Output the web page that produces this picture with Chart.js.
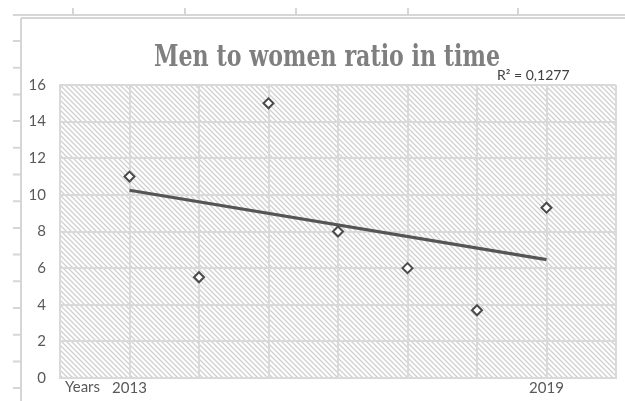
<!DOCTYPE html>
<html>
<head>
<meta charset="utf-8">
<script src="https://cdn.jsdelivr.net/npm/chart.js@4/dist/chart.umd.min.js"></script>
<style>
  html, body { margin: 0; padding: 0; background: #ffffff; }
  #wrap { width: 625px; height: 401px; }
</style>
</head>
<body>
<div id="wrap"><canvas id="chart" width="625" height="401"></canvas></div>
<script>
// Yearly men-to-women ratio
const years = [2013, 2014, 2015, 2016, 2017, 2018, 2019];
const ratios = [11, 5.5, 15, 8, 6, 3.7, 9.3];

// Axis labels
const labeledYears = [2013, 2019];
const xAxisName = 'Years';
const yTickValues = [0, 2, 4, 6, 8, 10, 12, 14, 16];
const chartTitle = 'Men to women ratio in time';
const rSquaredText = 'R\u00B2 = 0,1277';

// Least-squares trend line through the yearly values
function linearFit(xs, ys) {
  const n = xs.length;
  const mx = xs.reduce((a, b) => a + b, 0) / n;
  const my = ys.reduce((a, b) => a + b, 0) / n;
  let sxy = 0, sxx = 0;
  for (let i = 0; i < n; i++) {
    sxy += (xs[i] - mx) * (ys[i] - my);
    sxx += (xs[i] - mx) * (xs[i] - mx);
  }
  const slope = sxy / sxx;
  return x => my + slope * (x - mx);
}
const fit = linearFit(years, ratios);
const trendPoints = [years[0], years[years.length - 1]].map(x => ({ x: x, y: fit(x) }));

const GRID = '#d9d9d9';
const TEXT = '#595959';
const PAD_LEFT = 30;

// Diagonal hatch used as the plot background
function makeHatch() {
  const s = 5;
  const c = document.createElement('canvas');
  c.width = s; c.height = s;
  const g = c.getContext('2d');
  g.fillStyle = '#ffffff';
  g.fillRect(0, 0, s, s);
  g.strokeStyle = '#d0d0d0';
  g.lineWidth = 1.3;
  g.beginPath();
  g.moveTo(-1, -1); g.lineTo(s + 1, s + 1);
  g.moveTo(-1, s - 1); g.lineTo(1, s + 1);
  g.moveTo(s - 1, -1); g.lineTo(s + 1, 1);
  g.stroke();
  return g.createPattern(c, 'repeat');
}

const backdrop = {
  id: 'backdrop',
  beforeDraw(chart) {
    const ctx = chart.ctx;
    const a = chart.chartArea;
    ctx.save();
    ctx.fillStyle = '#ffffff';
    ctx.fillRect(0, 0, chart.width, chart.height);

    // sheet frame around the chart object
    ctx.strokeStyle = '#d6d6d6';
    ctx.lineWidth = 2;
    ctx.beginPath();
    ctx.moveTo(13, 15); ctx.lineTo(chart.width, 15);
    [73, 185, 296, 408, 518].forEach(x => { ctx.moveTo(x, 8); ctx.lineTo(x, 15); });
    ctx.moveTo(21, 18); ctx.lineTo(chart.width, 18);
    ctx.moveTo(21, 18); ctx.lineTo(21, chart.height);
    for (let y = 41; y < chart.height; y += 26.7) { ctx.moveTo(13, y); ctx.lineTo(21, y); }
    ctx.stroke();

    // hatched plot area
    ctx.fillStyle = makeHatch();
    ctx.fillRect(a.left, a.top, a.right - a.left, a.bottom - a.top);
    ctx.restore();
  },
  afterDraw(chart) {
    const ctx = chart.ctx;
    const a = chart.chartArea;
    ctx.save();
    // chart title in a narrow bold serif
    ctx.fillStyle = '#7f7f7f';
    ctx.font = 'bold 30px "DejaVu Serif", serif';
    ctx.textAlign = 'center';
    ctx.textBaseline = 'alphabetic';
    ctx.fillText(chartTitle, 327, 66, 346);

    ctx.fillStyle = TEXT;
    ctx.font = '15px Lato, "Open Sans", sans-serif';
    ctx.textBaseline = 'middle';
    ctx.textAlign = 'left';
    ctx.fillText(xAxisName, a.left + 5, a.bottom + 9);
    ctx.fillStyle = '#404040';
    ctx.font = '14px Lato, "Open Sans", sans-serif';
    ctx.fillText(rSquaredText, 497, a.top - 10);
    ctx.restore();
  }
};

new Chart(document.getElementById('chart'), {
  type: 'scatter',
  data: {
    datasets: [
      {
        label: 'Ratio',
        data: years.map((y, i) => ({ x: y, y: ratios[i] })),
        pointStyle: 'rectRot',
        pointRadius: 5,
        pointHoverRadius: 5,
        pointBorderWidth: 2,
        pointBorderColor: '#4a4a4a',
        pointBackgroundColor: '#ffffff',
        order: 1
      },
      {
        label: 'Trend',
        type: 'line',
        data: trendPoints,
        borderColor: '#555555',
        borderWidth: 3.2,
        pointRadius: 0,
        fill: false,
        order: 2
      }
    ]
  },
  options: {
    responsive: false,
    animation: false,
    events: [],
    layout: { padding: { left: PAD_LEFT, right: 9, top: 85, bottom: 0 } },
    plugins: {
      legend: { display: false },
      tooltip: { enabled: false },
      title: { display: false }
    },
    scales: {
      x: {
        type: 'linear',
        min: 2012,
        max: 2020,
        afterFit(scale) { scale.height = 18; },
        ticks: {
          stepSize: 1,
          autoSkip: false,
          padding: 1,
          color: TEXT,
          font: { family: 'Lato, "Open Sans", sans-serif', size: 15 },
          callback: v => labeledYears.includes(v) ? String(v) : ''
        },
        grid: { color: GRID, lineWidth: 2, drawTicks: false },
        border: { color: GRID, width: 2 }
      },
      y: {
        min: 0,
        max: 16,
        afterFit(scale) { scale.width = 60 - PAD_LEFT; },
        afterBuildTicks(scale) { scale.ticks = yTickValues.map(v => ({ value: v })); },
        ticks: {
          padding: 14,
          color: TEXT,
          font: { family: 'Lato, "Open Sans", sans-serif', size: 15 }
        },
        grid: { color: GRID, lineWidth: 2, drawTicks: false },
        border: { color: GRID, width: 2 }
      }
    }
  },
  plugins: [backdrop]
});
</script>
</body>
</html>
